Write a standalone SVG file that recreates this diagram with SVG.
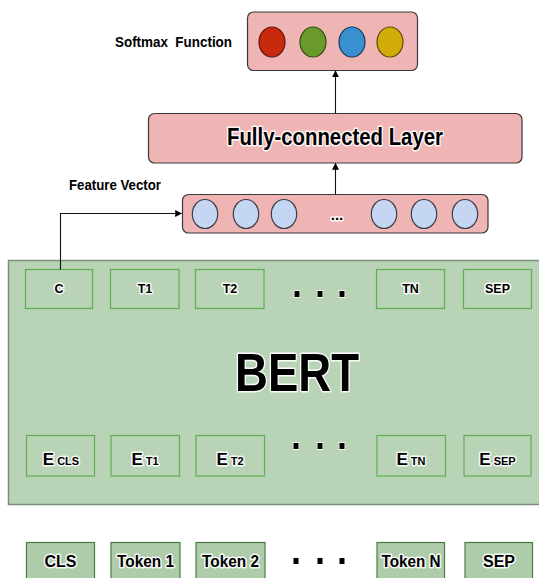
<svg xmlns="http://www.w3.org/2000/svg" width="539" height="578" viewBox="0 0 539 578">
  <defs>
    <marker id="arrow" viewBox="0 0 10 10" refX="9" refY="5" markerWidth="7" markerHeight="7" orient="auto" markerUnits="userSpaceOnUse">
      <path d="M0,0 L10,5 L0,10 z" fill="#000"/>
    </marker>
    <style>
      text { font-family: "Liberation Sans", Arial, sans-serif; font-weight: bold; fill: #000;
             paint-order: stroke; stroke: #fff; stroke-width: 3px; stroke-linejoin: round; stroke-opacity: 0.9; }
      .pink { fill: #efb5b4; stroke: #3a3a3a; stroke-width: 1.2; }
      .bert { fill: #b8d3b5; stroke: #7c8f7a; stroke-width: 1.5; }
      .cell { fill: #b8d3b5; stroke: #5fae55; stroke-width: 1.2; }
      .tok { fill: #aecbaa; stroke: #4e7a4a; stroke-width: 1.2; }
      .fv { fill: #c5d6f2; stroke: #3d3d45; stroke-width: 1.2; }
      .edge { fill: none; stroke: #111; stroke-width: 1.1; }
      .dot { fill: #000; stroke: #fff; stroke-width: 1.5; paint-order: stroke; }
      .lbl { font-size: 12.5px; text-anchor: middle; }
      .tk { font-size: 16px; text-anchor: middle; }
    </style>
  </defs>

  <rect width="539" height="578" fill="#fff"/>

  <!-- softmax output -->
  <g id="softmax">
    <rect class="pink" x="247.5" y="12" width="170" height="58.5" rx="6"/>
    <ellipse cx="272" cy="42" rx="13" ry="15" fill="#c92a0e" stroke="#5a1206" stroke-width="1.2"/>
    <ellipse cx="313" cy="42" rx="13" ry="15" fill="#6b9a2c" stroke="#2f4a12" stroke-width="1.2"/>
    <ellipse cx="352" cy="42" rx="13" ry="15" fill="#3a8fcf" stroke="#143a5a" stroke-width="1.2"/>
    <ellipse cx="390" cy="42" rx="13" ry="15" fill="#d2ad0a" stroke="#5a4a06" stroke-width="1.2"/>
  </g>
  <g id="softmax-label">
    <text x="115" y="47" font-size="15" textLength="117" lengthAdjust="spacingAndGlyphs">Softmax&#160; Function</text>
  </g>

  <!-- dense layer -->
  <g id="fc-layer">
    <rect class="pink" x="148.5" y="113.5" width="373.5" height="49.5" rx="6"/>
    <text x="335" y="145" font-size="23" text-anchor="middle" textLength="216" lengthAdjust="spacingAndGlyphs">Fully-connected Layer</text>
  </g>

  <!-- pooled feature vector -->
  <g id="feature-vector">
    <rect class="pink" x="182.5" y="194.5" width="305.5" height="38.5" rx="6"/>
    <ellipse class="fv" cx="205" cy="214" rx="12.7" ry="14.5"/>
    <ellipse class="fv" cx="246" cy="214" rx="12.7" ry="14.5"/>
    <ellipse class="fv" cx="284" cy="214" rx="12.7" ry="14.5"/>
    <text x="337" y="220" font-size="15" text-anchor="middle">...</text>
    <ellipse class="fv" cx="384" cy="214" rx="12.7" ry="14.5"/>
    <ellipse class="fv" cx="424" cy="214" rx="12.7" ry="14.5"/>
    <ellipse class="fv" cx="465" cy="214" rx="12.7" ry="14.5"/>
  </g>
  <g id="feature-label">
    <text x="69" y="190" font-size="14" textLength="92" lengthAdjust="spacingAndGlyphs">Feature Vector</text>
  </g>

  <!-- encoder block -->
  <g id="bert">
    <rect class="bert" x="8.5" y="260.5" width="540" height="244"/>
    <text x="297" y="391" font-size="53" text-anchor="middle" textLength="124" lengthAdjust="spacingAndGlyphs" stroke-width="4">BERT</text>
  </g>

  <!-- encoder outputs -->
  <g id="out-c"><rect class="cell" x="25.5" y="269.5" width="67" height="39"/><text class="lbl" x="59" y="293">C</text></g>
  <g id="out-t1"><rect class="cell" x="110.5" y="269.5" width="68.5" height="39"/><text class="lbl" x="145" y="293">T1</text></g>
  <g id="out-t2"><rect class="cell" x="195.5" y="269.5" width="68.5" height="39"/><text class="lbl" x="230" y="293">T2</text></g>
  <g id="out-dots">
    <rect class="dot" x="294.5" y="291" width="5" height="6"/>
    <rect class="dot" x="317.5" y="291" width="5" height="6"/>
    <rect class="dot" x="339.5" y="291" width="5" height="6"/>
  </g>
  <g id="out-tn"><rect class="cell" x="376.5" y="269.5" width="68" height="39"/><text class="lbl" x="410.5" y="293">TN</text></g>
  <g id="out-sep"><rect class="cell" x="463.5" y="269.5" width="68" height="39"/><text class="lbl" x="497.5" y="293">SEP</text></g>

  <!-- input embeddings -->
  <g id="emb-cls"><rect class="cell" x="26.5" y="435.5" width="68" height="40.5"/><text x="61" y="465" text-anchor="middle"><tspan font-size="17">E</tspan><tspan font-size="11" dx="3">CLS</tspan></text></g>
  <g id="emb-t1"><rect class="cell" x="111" y="435.5" width="68.5" height="40.5"/><text x="145" y="465" text-anchor="middle"><tspan font-size="17">E</tspan><tspan font-size="11" dx="3">T1</tspan></text></g>
  <g id="emb-t2"><rect class="cell" x="196" y="435.5" width="68.5" height="40.5"/><text x="230" y="465" text-anchor="middle"><tspan font-size="17">E</tspan><tspan font-size="11" dx="3">T2</tspan></text></g>
  <g id="emb-dots">
    <rect class="dot" x="293.5" y="443" width="5" height="6"/>
    <rect class="dot" x="317.5" y="443" width="5" height="6"/>
    <rect class="dot" x="339.5" y="443" width="5" height="6"/>
  </g>
  <g id="emb-tn"><rect class="cell" x="377" y="435.5" width="68.5" height="40.5"/><text x="411" y="465" text-anchor="middle"><tspan font-size="17">E</tspan><tspan font-size="11" dx="3">TN</tspan></text></g>
  <g id="emb-sep"><rect class="cell" x="464" y="435.5" width="67" height="40.5"/><text x="497.5" y="465" text-anchor="middle"><tspan font-size="17">E</tspan><tspan font-size="11" dx="3">SEP</tspan></text></g>

  <!-- input tokens -->
  <g id="tok-cls"><rect class="tok" x="26.5" y="542.5" width="68" height="45"/><text class="tk" x="60.5" y="567">CLS</text></g>
  <g id="tok-1"><rect class="tok" x="111" y="542.5" width="69" height="45"/><text class="tk" x="145.5" y="567" textLength="57" lengthAdjust="spacingAndGlyphs">Token 1</text></g>
  <g id="tok-2"><rect class="tok" x="196" y="542.5" width="69" height="45"/><text class="tk" x="230.5" y="567" textLength="57" lengthAdjust="spacingAndGlyphs">Token 2</text></g>
  <g id="tok-dots">
    <rect class="dot" x="293.5" y="558" width="5" height="6"/>
    <rect class="dot" x="317.5" y="558" width="5" height="6"/>
    <rect class="dot" x="339.5" y="558" width="5" height="6"/>
  </g>
  <g id="tok-n"><rect class="tok" x="377" y="542.5" width="67.5" height="45"/><text class="tk" x="411" y="567" textLength="59" lengthAdjust="spacingAndGlyphs">Token N</text></g>
  <g id="tok-sep"><rect class="tok" x="465" y="542.5" width="67.5" height="45"/><text class="tk" x="499" y="567">SEP</text></g>

  <!-- connectors -->
  <g id="connectors">
    <path class="edge" d="M60.5,269.5 V213.5 H181.5" marker-end="url(#arrow)"/>
    <path class="edge" d="M335.5,194.5 V163.5" marker-end="url(#arrow)"/>
    <path class="edge" d="M335.5,113.5 V71" marker-end="url(#arrow)"/>
  </g>
</svg>
